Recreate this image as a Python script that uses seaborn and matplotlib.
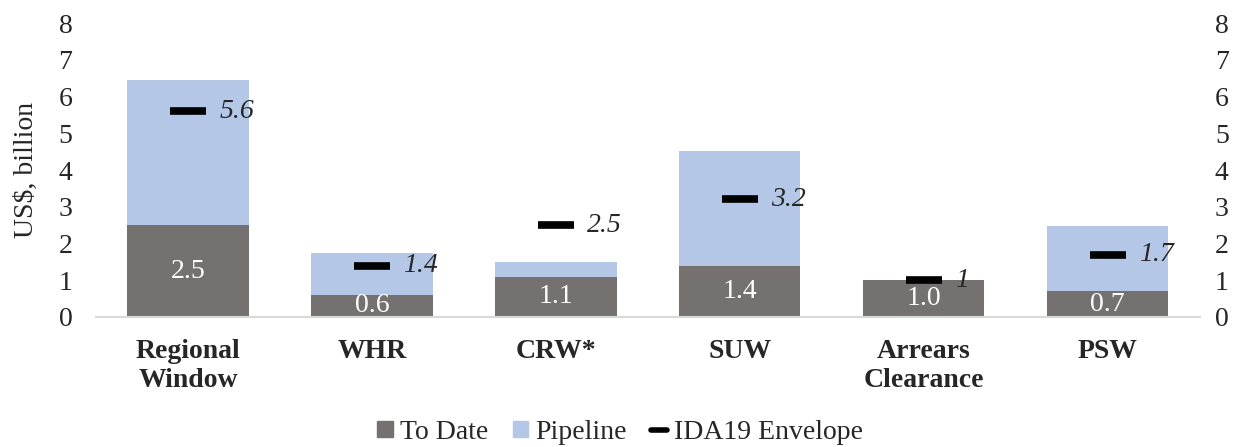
import matplotlib
matplotlib.use('Agg')
import matplotlib.pyplot as plt
import seaborn as sns
import pandas as pd
import numpy as np
from matplotlib.patches import Patch
from matplotlib.lines import Line2D

categories = ['Regional\nWindow', 'WHR', 'CRW*', 'SUW', 'Arrears\nClearance', 'PSW']
to_date = [2.5, 0.6, 1.1, 1.4, 1.0, 0.7]
pipeline = [3.96, 1.15, 0.4, 3.12, 0.0, 1.78]
envelope = [5.6, 1.4, 2.5, 3.2, 1.0, 1.7]
envelope_labels = ['5.6', '1.4', '2.5', '3.2', '1', '1.7']
to_date_labels = ['2.5', '0.6', '1.1', '1.4', '1.0', '0.7']

GRAY = '#767171'
BLUE = '#B4C7E7'
FS = 20

sns.set_style('white')
plt.rcParams['font.family'] = ['Liberation Serif', 'DejaVu Serif']

df = pd.DataFrame({'cat': categories, 'to_date': to_date, 'pipeline': pipeline,
                   'envelope': envelope})
df['total'] = df['to_date'] + df['pipeline']

fig = plt.figure(figsize=(12.4, 4.47), dpi=100)
ax = fig.add_axes([0.0774, 0.291, 0.890, 0.657])

# stacked bars: total first, then to-date on top of it
sns.barplot(data=df, x='cat', y='total', color=BLUE, width=0.66, saturation=1,
            linewidth=0, ax=ax)
sns.barplot(data=df, x='cat', y='to_date', color=GRAY, width=0.66, saturation=1,
            linewidth=0, ax=ax)

xs = np.arange(len(categories))
ax.plot(xs, df['envelope'], linestyle='none', marker='_', markersize=26,
        markeredgewidth=5.5, color='black')

for i in range(len(categories)):
    ax.text(xs[i] + 0.17, envelope[i], envelope_labels[i], fontsize=FS,
            style='italic', va='center', ha='left')
    ax.text(xs[i], to_date[i] / 2, to_date_labels[i], fontsize=FS, color='white',
            va='center', ha='center')

ax.set_xlim(-0.5, len(categories) - 0.5)
ax.set_ylim(0, 8)
ax.set_yticks(range(0, 9))
ax.set_xlabel('')
ax.set_ylabel('US$, billion', fontsize=FS, labelpad=14)
for s in ['top', 'right', 'left']:
    ax.spines[s].set_visible(False)
ax.spines['bottom'].set_color('#D9D9D9')
ax.spines['bottom'].set_linewidth(1.5)
ax.tick_params(axis='y', length=0, labelsize=FS, pad=17)
ax.tick_params(axis='x', which='major', length=0, labelsize=FS, pad=16)
ax.set_xticks(np.arange(-0.5, len(categories)), minor=True)
ax.tick_params(axis='x', which='minor', length=5, width=1.5, color='#D9D9D9')
for lbl in ax.get_xticklabels():
    lbl.set_fontweight('bold')
    lbl.set_linespacing(1.2)

ax2 = ax.twinx()
ax2.set_ylim(0, 8)
ax2.set_yticks(range(0, 9))
ax2.tick_params(axis='y', length=0, labelsize=FS, pad=11)
for s in ax2.spines.values():
    s.set_visible(False)

handles = [Patch(color=GRAY, label='To Date'),
           Patch(color=BLUE, label='Pipeline'),
           Line2D([0], [0], color='black', lw=4, label='IDA19 Envelope')]
fig.legend(handles=handles, loc='center', bbox_to_anchor=(0.5, 0.033), ncol=3,
           frameon=False, fontsize=FS, handlelength=0.55, handleheight=0.55,
           handletextpad=0.25, columnspacing=0.9)

plt.savefig('out.png', dpi=100)
